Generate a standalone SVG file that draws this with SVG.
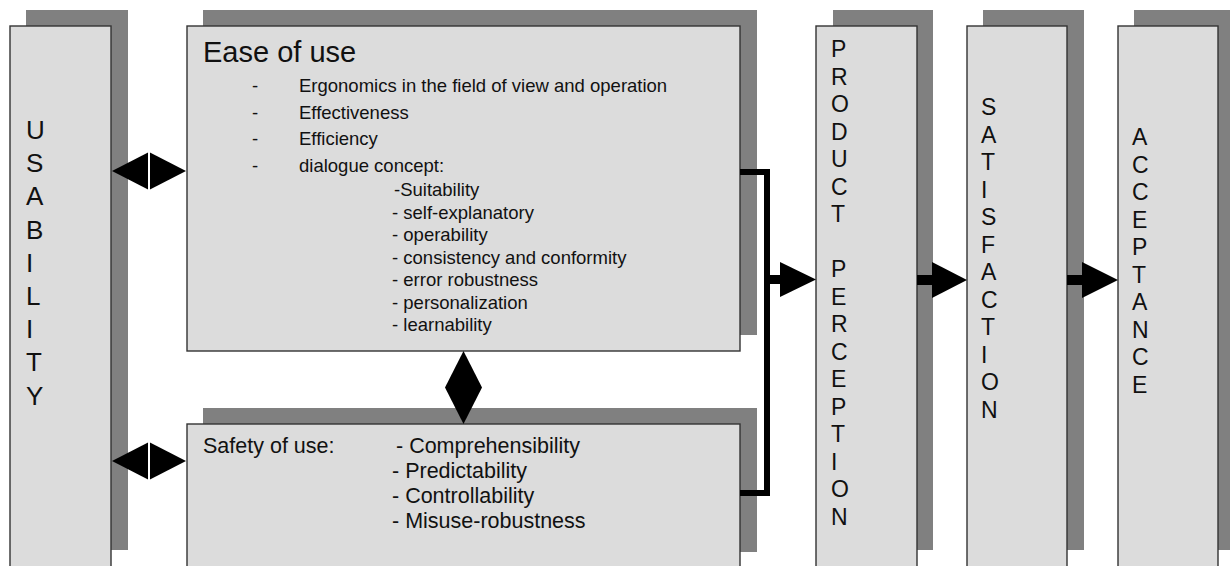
<svg xmlns="http://www.w3.org/2000/svg" width="1230" height="566" viewBox="0 0 1230 566">
  <style>
    .shadow { fill: #808080; }
    .box { fill: #dcdcdc; stroke: #333333; stroke-width: 1.4; }
    .txt { font-family: "Liberation Sans", Arial, sans-serif; fill: #111111; }
    .col { font-size: 23px; }
    .wire { fill: none; stroke: #000000; stroke-width: 6; }
    .head { fill: #000000; }
  </style>

  <rect x="0" y="0" width="1230" height="566" fill="#ffffff"/>

  <!-- Usability column -->
  <g id="usability">
    <rect class="shadow" x="26" y="10" width="102" height="540"/>
    <rect class="box" x="10" y="26" width="101" height="560"/>
    <text class="txt" font-size="26" x="26">
      <tspan x="26" y="139">U</tspan>
      <tspan x="26" y="172.2">S</tspan>
      <tspan x="26" y="205.4">A</tspan>
      <tspan x="26" y="238.6">B</tspan>
      <tspan x="26" y="271.8">I</tspan>
      <tspan x="26" y="305">L</tspan>
      <tspan x="26" y="338.2">I</tspan>
      <tspan x="26" y="371.4">T</tspan>
      <tspan x="26" y="404.6">Y</tspan>
    </text>
  </g>

  <!-- Ease of use -->
  <g id="ease-of-use">
    <rect class="shadow" x="203" y="10" width="554" height="325"/>
    <rect class="box" x="187" y="26" width="553" height="325"/>
    <text class="txt" font-size="29" x="203" y="62">Ease of use</text>
    <g class="txt" font-size="18.5">
      <text x="252" y="92">-</text>
      <text x="299" y="92">Ergonomics in the field of view and operation</text>
      <text x="252" y="118.5">-</text>
      <text x="299" y="118.5">Effectiveness</text>
      <text x="252" y="145">-</text>
      <text x="299" y="145">Efficiency</text>
      <text x="252" y="171.5">-</text>
      <text x="299" y="171.5">dialogue concept:</text>
      <text x="394" y="196">-Suitability</text>
      <text x="392" y="218.5">- self-explanatory</text>
      <text x="392" y="241">- operability</text>
      <text x="392" y="263.5">- consistency and conformity</text>
      <text x="392" y="286">- error robustness</text>
      <text x="392" y="308.5">- personalization</text>
      <text x="392" y="331">-  learnability</text>
    </g>
  </g>

  <!-- Safety of use -->
  <g id="safety-of-use">
    <rect class="shadow" x="203" y="408" width="554" height="144"/>
    <rect class="box" x="187" y="424" width="553" height="160"/>
    <g class="txt" font-size="21.5">
      <text x="203" y="453">Safety of use:</text>
      <text x="396" y="453">- Comprehensibility</text>
      <text x="392" y="478">- Predictability</text>
      <text x="392" y="503">- Controllability</text>
      <text x="392" y="528">- Misuse-robustness</text>
    </g>
  </g>

  <!-- Product perception -->
  <g id="product-perception">
    <rect class="shadow" x="833" y="10" width="100" height="540"/>
    <rect class="box" x="816" y="26" width="101" height="560"/>
    <text class="txt col">
      <tspan x="831" y="57">P</tspan>
      <tspan x="831" y="84.5">R</tspan>
      <tspan x="831" y="112">O</tspan>
      <tspan x="831" y="139.5">D</tspan>
      <tspan x="831" y="167">U</tspan>
      <tspan x="831" y="194.5">C</tspan>
      <tspan x="831" y="222">T</tspan>
      <tspan x="831" y="277">P</tspan>
      <tspan x="831" y="304.5">E</tspan>
      <tspan x="831" y="332">R</tspan>
      <tspan x="831" y="359.5">C</tspan>
      <tspan x="831" y="387">E</tspan>
      <tspan x="831" y="414.5">P</tspan>
      <tspan x="831" y="442">T</tspan>
      <tspan x="831" y="469.5">I</tspan>
      <tspan x="831" y="497">O</tspan>
      <tspan x="831" y="524.5">N</tspan>
    </text>
  </g>

  <!-- Satisfaction -->
  <g id="satisfaction">
    <rect class="shadow" x="983" y="10" width="101" height="540"/>
    <rect class="box" x="967" y="26" width="100" height="560"/>
    <text class="txt col">
      <tspan x="981" y="115">S</tspan>
      <tspan x="981" y="142.5">A</tspan>
      <tspan x="981" y="170">T</tspan>
      <tspan x="981" y="197.5">I</tspan>
      <tspan x="981" y="225">S</tspan>
      <tspan x="981" y="252.5">F</tspan>
      <tspan x="981" y="280">A</tspan>
      <tspan x="981" y="307.5">C</tspan>
      <tspan x="981" y="335">T</tspan>
      <tspan x="981" y="362.5">I</tspan>
      <tspan x="981" y="390">O</tspan>
      <tspan x="981" y="417.5">N</tspan>
    </text>
  </g>

  <!-- Acceptance -->
  <g id="acceptance">
    <rect class="shadow" x="1134" y="10" width="100" height="540"/>
    <rect class="box" x="1118" y="26" width="100" height="560"/>
    <text class="txt col">
      <tspan x="1132" y="145">A</tspan>
      <tspan x="1132" y="172.5">C</tspan>
      <tspan x="1132" y="200">C</tspan>
      <tspan x="1132" y="227.5">E</tspan>
      <tspan x="1132" y="255">P</tspan>
      <tspan x="1132" y="282.5">T</tspan>
      <tspan x="1132" y="310">A</tspan>
      <tspan x="1132" y="337.5">N</tspan>
      <tspan x="1132" y="365">C</tspan>
      <tspan x="1132" y="392.5">E</tspan>
    </text>
  </g>

  <!-- Connectors -->
  <g id="connectors">
    <!-- two-way links between usability and its aspects -->
    <path class="head" d="M112,171 L149,152 L186,171 L149,190 Z"/>
    <line x1="149" y1="150" x2="149" y2="192" stroke="#ffffff" stroke-width="2"/>
    <path class="head" d="M112,461 L149,442 L186,461 L149,480 Z"/>
    <line x1="149" y1="440" x2="149" y2="482" stroke="#ffffff" stroke-width="2"/>

    <!-- link between ease of use and safety of use -->
    <path class="head" d="M463.5,351 L482,387.5 L463.5,424 L445,387.5 Z"/>

    <!-- bracket joining both aspects -->
    <path class="wire" d="M740,172 L767,172 L767,493 L740,493" stroke-linejoin="miter"/>
    <line x1="767" y1="279.5" x2="782" y2="279.5" stroke="#000000" stroke-width="9"/>
    <path class="head" d="M780,262 L816,279.5 L780,297 Z"/>

    <!-- perception to satisfaction -->
    <line x1="917" y1="280" x2="934" y2="280" stroke="#000000" stroke-width="10"/>
    <path class="head" d="M932,262 L967,280 L932,298 Z"/>

    <!-- satisfaction to acceptance -->
    <line x1="1067" y1="280" x2="1084" y2="280" stroke="#000000" stroke-width="10"/>
    <path class="head" d="M1082,262 L1118,280 L1082,298 Z"/>
  </g>
</svg>
